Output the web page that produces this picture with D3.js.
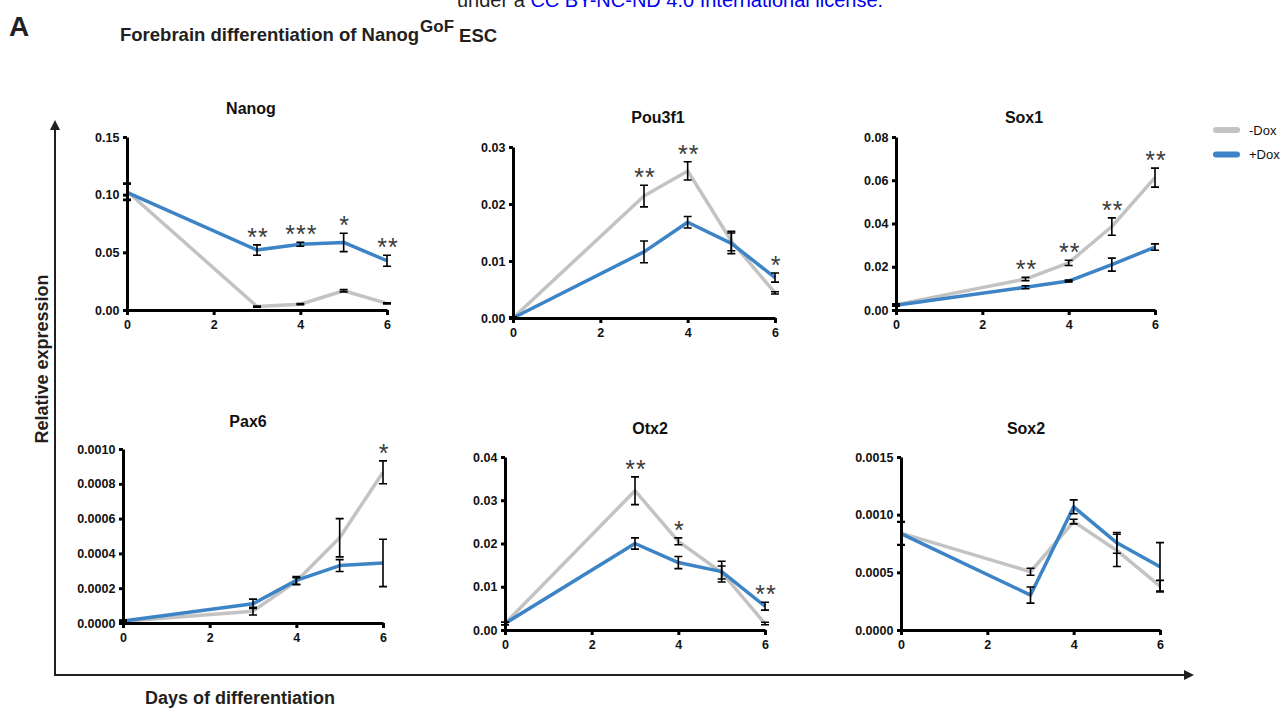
<!DOCTYPE html>
<html lang="en">
<head>
<meta charset="utf-8">
<title>Forebrain differentiation of Nanog GoF ESC</title>
<script src="https://d3js.org/d3.v7.min.js"></script>
<style>
  body { margin: 0; background: #fff; }
  svg { font-family: "Liberation Sans", Arial, sans-serif; }
  .axis path, .axis line { stroke: #000; stroke-width: 3px; }
  .axis text { font-size: 12.5px; font-weight: bold; fill: #111; }
  .line { fill: none; stroke-width: 3.5px; stroke-linejoin: round; }
  .err { stroke: #000; stroke-width: 1.6px; fill: none; }
  .star { font-size: 25px; fill: #3a3a3a; text-anchor: middle; letter-spacing: 1px; }
</style>
</head>
<body>
<script>
// x values (days) and ticks
const days = [0, 3, 4, 5, 6];
const xTicks = [0, 2, 4, 6];

// Nanog
const nanogMinus    = [0.103, 0.003, 0.005, 0.0167, 0.0058];
const nanogMinusErr = [0.007, 0.0005, 0.0005, 0.001, 0.0005];
const nanogPlus     = [0.102, 0.052, 0.057, 0.0586, 0.0427];
const nanogPlusErr  = [0.007, 0.0045, 0.0017, 0.008, 0.0048];
const nanogStars    = ["", "**", "***", "*", "**"];
const nanogTicks    = [0, 0.05, 0.10, 0.15];

// Pou3f1
const pou3f1Minus    = [0, 0.0214, 0.0258, 0.0135, 0.0044];
const pou3f1MinusErr = [0.0002, 0.0019, 0.0016, 0.0017, 0.0002];
const pou3f1Plus     = [0, 0.0116, 0.0168, 0.0131, 0.0071];
const pou3f1PlusErr  = [0.0002, 0.0019, 0.001, 0.0018, 0.0008];
const pou3f1Stars    = ["", "**", "**", "", "*"];
const pou3f1Ticks    = [0, 0.01, 0.02, 0.03];

// Sox1
const sox1Minus    = [0.0025, 0.0143, 0.0218, 0.0386, 0.0612];
const sox1MinusErr = [0.0004, 0.0008, 0.0012, 0.004, 0.0044];
const sox1Plus     = [0.0022, 0.0105, 0.0134, 0.021, 0.0291];
const sox1PlusErr  = [0.0004, 0.0007, 0.0004, 0.003, 0.0015];
const sox1Stars    = ["", "**", "**", "**", "**"];
const sox1Ticks    = [0, 0.02, 0.04, 0.06, 0.08];

// Pax6
const pax6Minus    = [0.00001, 0.000068, 0.00024, 0.00049, 0.000866];
const pax6MinusErr = [0.000005, 0.000022, 0.00002, 0.00011, 0.000066];
const pax6Plus     = [0.000012, 0.00011, 0.000245, 0.00033, 0.000345];
const pax6PlusErr  = [0.000005, 0.000027, 0.000022, 0.000034, 0.000136];
const pax6Stars    = ["", "", "", "", "*"];
const pax6Ticks    = [0, 0.0002, 0.0004, 0.0006, 0.0008, 0.0010];

// Otx2
const otx2Minus    = [0.0015, 0.0322, 0.0205, 0.0133, 0.0015];
const otx2MinusErr = [0.0003, 0.0032, 0.0008, 0.0015, 0.0003];
const otx2Plus     = [0.0015, 0.02, 0.0156, 0.0135, 0.0055];
const otx2PlusErr  = [0.0003, 0.0013, 0.0014, 0.0024, 0.0009];
const otx2Stars    = ["", "**", "*", "", "**"];
const otx2Ticks    = [0, 0.01, 0.02, 0.03, 0.04];

// Sox2
const sox2Minus    = [0.00084, 0.000505, 0.00094, 0.00069, 0.00038];
const sox2MinusErr = [0.0001, 0.00003, 0.00002, 0.00014, 0.00005];
const sox2Plus     = [0.000835, 0.000303, 0.001068, 0.000756, 0.000548];
const sox2PlusErr  = [0.0001, 0.00007, 0.00006, 0.00009, 0.00021];
const sox2Stars    = ["", "", "", "", ""];
const sox2Ticks    = [0, 0.0005, 0.0010, 0.0015];

const seriesNames = ["-Dox", "+Dox"];
const grey = "#c3c3c3";
const blue = "#3d84c6";

// panel layout (pixels)
const panels = [
  {name: "Nanog",  minus: nanogMinus,  minusErr: nanogMinusErr,  plus: nanogPlus,  plusErr: nanogPlusErr,  stars: nanogStars,  ticks: nanogTicks,  fmt: ".2f",
   x0: 127, x1: 387, top: 137, bottom: 310, tx: 251, ty: 114},
  {name: "Pou3f1", minus: pou3f1Minus, minusErr: pou3f1MinusErr, plus: pou3f1Plus, plusErr: pou3f1PlusErr, stars: pou3f1Stars, ticks: pou3f1Ticks, fmt: ".2f",
   x0: 513, x1: 775, top: 147, bottom: 318, tx: 658, ty: 123},
  {name: "Sox1",   minus: sox1Minus,   minusErr: sox1MinusErr,   plus: sox1Plus,   plusErr: sox1PlusErr,   stars: sox1Stars,   ticks: sox1Ticks,   fmt: ".2f",
   x0: 896, x1: 1155, top: 137, bottom: 310, tx: 1024, ty: 123},
  {name: "Pax6",   minus: pax6Minus,   minusErr: pax6MinusErr,   plus: pax6Plus,   plusErr: pax6PlusErr,   stars: pax6Stars,   ticks: pax6Ticks,   fmt: ".4f",
   x0: 123, x1: 383, top: 449, bottom: 623, tx: 248, ty: 427},
  {name: "Otx2",   minus: otx2Minus,   minusErr: otx2MinusErr,   plus: otx2Plus,   plusErr: otx2PlusErr,   stars: otx2Stars,   ticks: otx2Ticks,   fmt: ".2f",
   x0: 505, x1: 765, top: 457, bottom: 630, tx: 650, ty: 434},
  {name: "Sox2",   minus: sox2Minus,   minusErr: sox2MinusErr,   plus: sox2Plus,   plusErr: sox2PlusErr,   stars: sox2Stars,   ticks: sox2Ticks,   fmt: ".4f",
   x0: 901, x1: 1160, top: 457, bottom: 630, tx: 1026, ty: 434}
];

const w = 1288, h = 711;
const svg = d3.select("body").append("svg")
  .attr("width", w)
  .attr("height", h);

// licence line, cut by the top edge as in the source page
svg.append("text")
  .attr("x", 457).attr("y", 7)
  .attr("font-size", "20px").attr("fill", "#231f20")
  .text("under a ")
  .append("tspan").attr("fill", "#0000ee")
  .text("CC BY-NC-ND 4.0 International license.");

// panel letter and figure title
svg.append("text")
  .attr("x", 9).attr("y", 36)
  .attr("font-size", "28px").attr("font-weight", "bold").attr("fill", "#231f20")
  .text("A");

const title = svg.append("text")
  .attr("x", 120).attr("y", 41)
  .attr("font-size", "18.5px").attr("font-weight", "bold").attr("fill", "#231f20");
title.append("tspan").text("Forebrain differentiation of Nanog");
title.append("tspan").attr("dy", -9).attr("dx", 1).attr("font-size", "17px").text("GoF");
title.append("tspan").attr("dy", 10).attr("dx", 5).text("ESC");

// big outer axes with arrows
svg.append("defs").append("marker")
  .attr("id", "arrow")
  .attr("viewBox", "0 0 10 10")
  .attr("refX", 2).attr("refY", 5)
  .attr("markerWidth", 5).attr("markerHeight", 5)
  .attr("orient", "auto")
  .append("path").attr("d", "M0,0 L10,5 L0,10 z").attr("fill", "#231f20");

svg.append("path")
  .attr("d", "M55,675 L55,128")
  .attr("stroke", "#231f20").attr("stroke-width", 2)
  .attr("marker-end", "url(#arrow)");
svg.append("path")
  .attr("d", "M54,675 L1186,675")
  .attr("stroke", "#231f20").attr("stroke-width", 2)
  .attr("marker-end", "url(#arrow)");

svg.append("text")
  .attr("transform", "translate(48,359) rotate(-90)")
  .attr("text-anchor", "middle")
  .attr("font-size", "18px").attr("font-weight", "bold").attr("fill", "#231f20")
  .text("Relative expression");

svg.append("text")
  .attr("x", 145).attr("y", 704)
  .attr("font-size", "18px").attr("font-weight", "bold").attr("fill", "#231f20")
  .text("Days of differentiation");

// legend
const legend = svg.append("g");
[grey, blue].forEach((c, i) => {
  legend.append("line")
    .attr("x1", 1216).attr("x2", 1237)
    .attr("y1", 130 + i * 24.5).attr("y2", 130 + i * 24.5)
    .attr("stroke", c).attr("stroke-width", 6).attr("stroke-linecap", "round");
  legend.append("text")
    .attr("x", 1249).attr("y", 134.5 + i * 24.5)
    .attr("font-size", "13px").attr("fill", "#111")
    .text(seriesNames[i]);
});

// panels
panels.forEach(p => {
  const g = svg.append("g");

  const xScale = d3.scaleLinear().domain([0, 6]).range([p.x0, p.x1]);
  const yScale = d3.scaleLinear()
    .domain([0, p.ticks[p.ticks.length - 1]])
    .range([p.bottom, p.top]);

  g.append("text")
    .attr("x", p.tx).attr("y", p.ty)
    .attr("text-anchor", "middle")
    .attr("font-size", "16px").attr("font-weight", "bold").attr("fill", "#111")
    .text(p.name);

  const line = d3.line()
    .x((d, i) => xScale(days[i]))
    .y(d => yScale(d));

  g.append("path")
    .attr("class", "line")
    .attr("stroke", grey)
    .attr("d", line(p.minus));

  g.append("path")
    .attr("class", "line")
    .attr("stroke", blue)
    .attr("d", line(p.plus));

  // error bars
  [[p.minus, p.minusErr], [p.plus, p.plusErr]].forEach(([vals, errs]) => {
    vals.forEach((v, i) => {
      const x = xScale(days[i]);
      const yHi = yScale(v + errs[i]);
      const yLo = yScale(Math.max(0, v - errs[i]));
      g.append("path")
        .attr("class", "err")
        .attr("d", `M${x},${yHi}L${x},${yLo}M${x - 4},${yHi}L${x + 4},${yHi}M${x - 4},${yLo}L${x + 4},${yLo}`);
    });
  });

  // significance stars above the higher error bar
  p.stars.forEach((s, i) => {
    if (!s) return;
    const top = Math.max(p.minus[i] + p.minusErr[i], p.plus[i] + p.plusErr[i]);
    g.append("text")
      .attr("class", "star")
      .attr("x", xScale(days[i]) + 1)
      .attr("y", yScale(top) + 1)
      .text(s);
  });

  // axes
  g.append("g")
    .attr("class", "axis")
    .attr("transform", `translate(0,${p.bottom})`)
    .call(d3.axisBottom(xScale).tickValues(xTicks).tickSize(5).tickSizeOuter(0).tickFormat(d3.format("d")))
    .call(a => a.selectAll("text").attr("dy", "0.85em"));

  g.append("g")
    .attr("class", "axis")
    .attr("transform", `translate(${p.x0},0)`)
    .call(d3.axisLeft(yScale).tickValues(p.ticks).tickSize(4).tickSizeOuter(0).tickFormat(d3.format(p.fmt)))
    .call(a => a.selectAll("text").attr("dx", "-0.05em"));
});
</script>
</body>
</html>
